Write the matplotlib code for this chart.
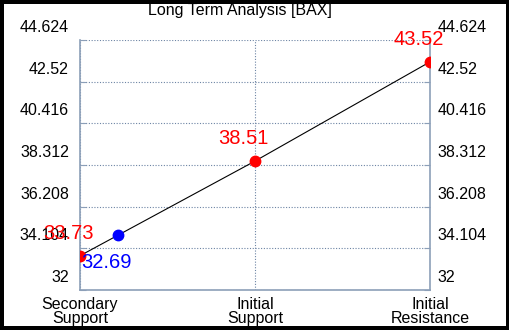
import matplotlib
matplotlib.use("Agg")
import matplotlib.pyplot as plt
import matplotlib.transforms as mtransforms

plt.rcParams["font.family"] = ["Liberation Sans", "DejaVu Sans"]

# data
levels = ["Secondary\nSupport", "Initial\nSupport", "Initial\nResistance"]
level_values = [33.73, 38.51, 43.52]
yticks = [32, 34.104, 36.208, 38.312, 40.416, 42.52, 44.624]
ytick_labels = ["32", "34.104", "36.208", "38.312", "40.416", "42.52", "44.624"]
current_x = 0.217
current_y = 34.77
current_label = "32.69"
title = "Long Term Analysis [BAX]"

grid_c = "#6d84a4"
spine_c = "#8c9fb8"

fig = plt.figure(figsize=(5.1, 3.3), dpi=100)
fig.patch.set_facecolor("white")
fig.patch.set_edgecolor("black")
fig.patch.set_linewidth(5.5)
ax = fig.add_axes([80 / 510, 40 / 330, 350 / 510, 250 / 330])

xs = list(range(len(levels)))
ax.plot(xs, level_values, color="black", linewidth=0.8, zorder=3)
ax.plot(xs, level_values, "o", color="red", markersize=7.5, zorder=4)
ax.plot([current_x], [current_y], "o", color="blue", markersize=7.5, zorder=4)

for x, v in zip(xs, level_values):
    ax.annotate(f"{v:.2f}", (x, v), xytext=(-8, 16), textcoords="offset points",
                ha="center", va="center", color="red", fontsize=14.5, zorder=5,
                annotation_clip=False)
ax.annotate(current_label, (current_x, current_y), xytext=(-8, -19.5),
            textcoords="offset points", ha="center", va="center",
            color="blue", fontsize=14.5, zorder=5)

ax.set_xlim(0, len(levels) - 1)
ax.set_ylim(yticks[0], yticks[-1])
ax.set_xticks(xs)
ax.set_xticklabels(levels, fontsize=11.5, linespacing=0.95)
ax.set_yticks(yticks)
ax.set_yticklabels(ytick_labels, fontsize=11.5)
ax.tick_params(axis="y", which="both", direction="in", length=4, color=spine_c,
               right=True, labelright=True, pad=8)
ax.tick_params(axis="x", direction="in", length=0, pad=5)
ax.grid(True, color=grid_c, linestyle=(0, (1, 1.5)), linewidth=0.8)
ax.set_axisbelow(True)

for s in ["left", "right", "bottom"]:
    ax.spines[s].set_color(spine_c)
    ax.spines[s].set_linewidth(1.2)
ax.spines["top"].set_visible(False)

# y labels sit above their grid lines
shift_left = mtransforms.ScaledTranslation(0, 0.14, fig.dpi_scale_trans)
shift_right = mtransforms.ScaledTranslation(-0.035, 0.14, fig.dpi_scale_trans)
for t in ax.yaxis.get_major_ticks():
    t.label1.set_transform(t.label1.get_transform() + shift_left)
    t.label2.set_transform(t.label2.get_transform() + shift_right)

fig.text(240 / 510, 1 - 15.5 / 330, title, ha="center", va="baseline", fontsize=11.5)

fig.savefig("out.png", dpi=100)
